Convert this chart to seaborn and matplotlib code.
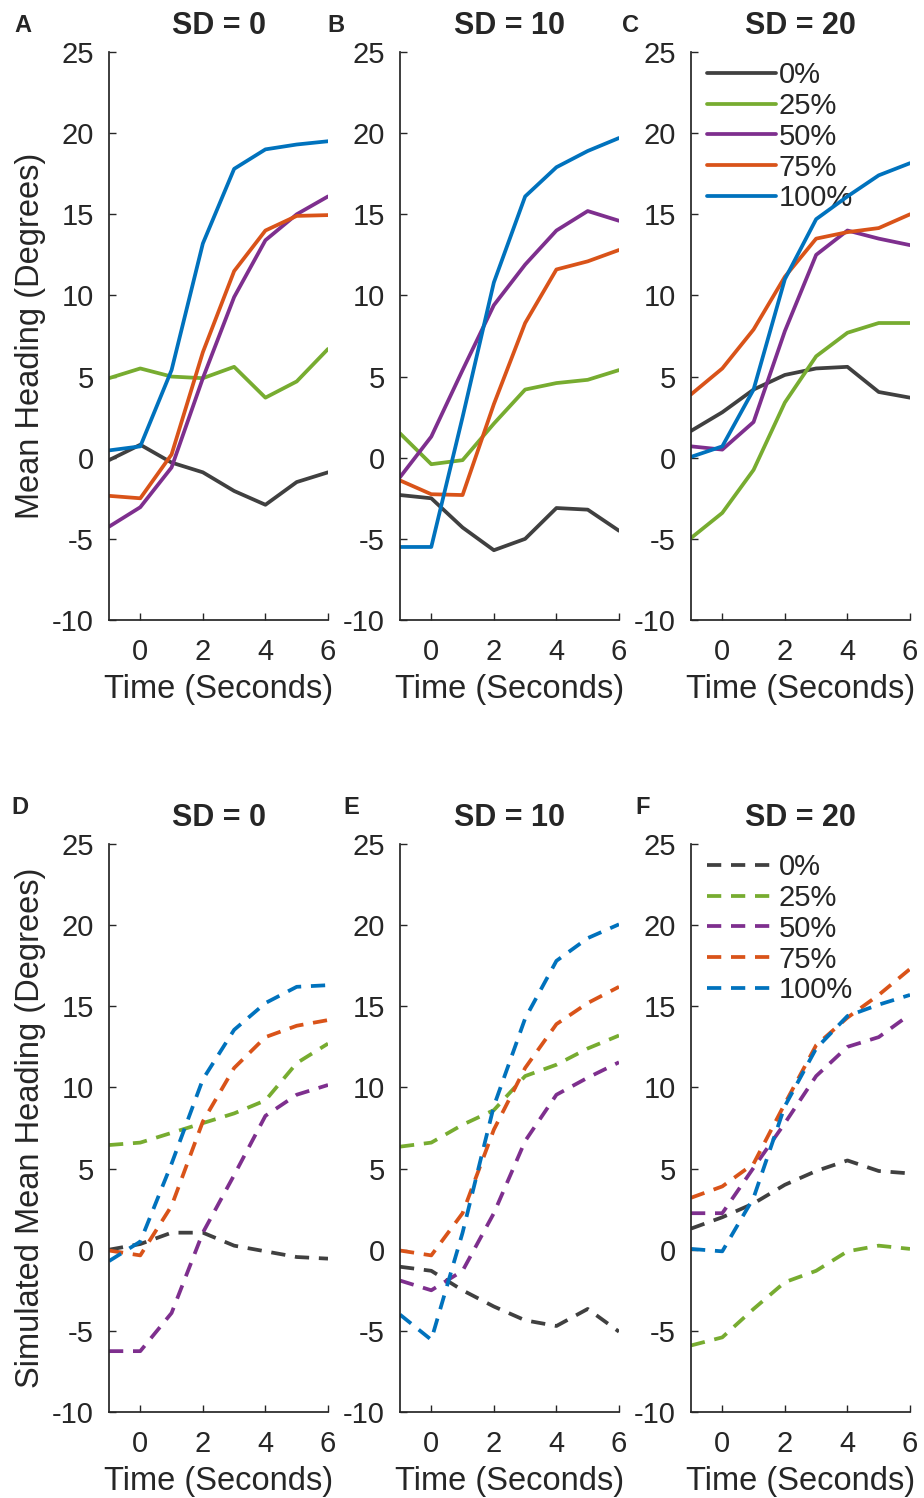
import numpy as np
import pandas as pd
import seaborn as sns
from matplotlib import pyplot as plt

TIME = [-1, 0, 1, 2, 3, 4, 5, 6]
LEVELS = ['0%', '25%', '50%', '75%', '100%']
COLORS = ['#404040', '#77AC30', '#7E2F8E', '#D95319', '#0072BD']
SD_TITLES = ['SD = 0', 'SD = 10', 'SD = 20']
LETTERS = ['A', 'B', 'C', 'D', 'E', 'F']

# measured heading, one row per level in LEVELS order
obs_sd0 = [[-0.15, 0.8, -0.3, -0.9, -2.05, -2.9, -1.5, -0.9],
           [4.9, 5.5, 5.0, 4.9, 5.6, 3.7, 4.7, 6.7],
           [-4.25, -3.05, -0.6, 4.9, 9.9, 13.4, 15.0, 16.1],
           [-2.35, -2.5, 0.2, 6.5, 11.5, 14.0, 14.9, 14.95],
           [0.45, 0.7, 5.4, 13.2, 17.8, 19.0, 19.3, 19.5]]
obs_sd10 = [[-2.3, -2.5, -4.3, -5.7, -5.0, -3.1, -3.2, -4.5],
            [1.5, -0.4, -0.15, 2.1, 4.2, 4.6, 4.8, 5.4],
            [-1.2, 1.3, 5.4, 9.4, 11.9, 14.0, 15.2, 14.6],
            [-1.4, -2.25, -2.3, 3.3, 8.3, 11.6, 12.1, 12.8],
            [-5.5, -5.5, 2.5, 10.8, 16.1, 17.9, 18.9, 19.7]]
obs_sd20 = [[1.65, 2.8, 4.2, 5.1, 5.5, 5.6, 4.05, 3.7],
            [-4.95, -3.4, -0.75, 3.4, 6.25, 7.7, 8.3, 8.3],
            [0.7, 0.5, 2.2, 7.8, 12.5, 14.0, 13.5, 13.1],
            [3.9, 5.5, 7.9, 11.15, 13.5, 13.9, 14.15, 15.0],
            [0.05, 0.7, 4.2, 11.0, 14.7, 16.1, 17.4, 18.15]]

# simulated heading
sim_sd0 = [[0.0, 0.35, 1.05, 1.05, 0.25, -0.1, -0.45, -0.55],
           [6.45, 6.6, 7.2, 7.8, 8.4, 9.2, 11.5, 12.7],
           [-6.25, -6.25, -3.9, 1.05, 4.6, 8.25, 9.55, 10.15],
           [-0.05, -0.35, 2.7, 7.9, 11.2, 13.1, 13.8, 14.15],
           [-0.7, 0.5, 5.3, 10.5, 13.55, 15.2, 16.2, 16.3]]
sim_sd10 = [[-1.05, -1.3, -2.5, -3.5, -4.35, -4.7, -3.65, -5.05],
            [6.35, 6.6, 7.7, 8.6, 10.7, 11.4, 12.4, 13.2],
            [-1.9, -2.5, -1.3, 2.25, 6.7, 9.55, 10.6, 11.55],
            [-0.05, -0.35, 2.25, 7.4, 11.2, 13.9, 15.2, 16.2],
            [-4.0, -5.55, 1.05, 8.85, 14.25, 17.8, 19.2, 20.05]]
sim_sd20 = [[1.3, 2.0, 2.85, 4.0, 4.85, 5.5, 4.85, 4.7],
            [-5.9, -5.4, -3.65, -2.0, -1.3, -0.1, 0.25, 0.05],
            [2.25, 2.25, 5.05, 7.8, 10.7, 12.5, 13.1, 14.5],
            [3.2, 3.9, 5.3, 9.0, 12.6, 14.3, 15.7, 17.3],
            [0.05, -0.1, 3.2, 8.85, 12.4, 14.4, 15.1, 15.7]]


def to_frame(rows):
    recs = []
    for level, vals in zip(LEVELS, rows):
        for t, v in zip(TIME, vals):
            recs.append({'time': t, 'heading': v, 'level': level})
    return pd.DataFrame(recs)


sns.set_theme(style='ticks')
plt.rcParams['font.family'] = ['Liberation Sans', 'DejaVu Sans']
plt.rcParams['axes.unicode_minus'] = False
plt.rcParams['xtick.direction'] = 'in'
plt.rcParams['ytick.direction'] = 'in'

fig = plt.figure(figsize=(9.24, 14.98), dpi=100)
lefts = [109 / 924, 400 / 924, 691 / 924]
bottoms = [1 - 620 / 1498, 1 - 1412 / 1498]
w, h = 219 / 924, 568 / 1498
letter_x = [[-0.43, -0.33, -0.315], [-0.445, -0.26, -0.256]]
letter_y = [1.046, 1.065]

panels = [obs_sd0, obs_sd10, obs_sd20, sim_sd0, sim_sd10, sim_sd20]
for i, rows in enumerate(panels):
    r, c = divmod(i, 3)
    ax = fig.add_axes([lefts[c], bottoms[r], w, h])
    df = to_frame(rows)
    kw = dict(linestyle=(0, (3.8, 2.6))) if r == 1 else {}
    sns.lineplot(data=df, x='time', y='heading', hue='level', hue_order=LEVELS,
                 palette=COLORS, estimator=None, sort=False, linewidth=2.7,
                 legend=False, ax=ax, **kw)
    ax.set_xlim(-1, 6)
    ax.set_ylim(-10, 25)
    ax.set_xticks([0, 2, 4, 6])
    ax.set_yticks(np.arange(-10, 26, 5))
    ax.tick_params(labelsize=21, length=5, width=1, colors='#262626')
    ax.tick_params(axis='x', pad=13)
    ax.tick_params(axis='y', pad=11)
    for s in ax.spines.values():
        s.set_color('#262626')
    sns.despine(ax=ax)
    ax.set_xlabel('Time (Seconds)', fontsize=23.5, color='#262626', labelpad=6)
    if c == 0:
        ax.set_ylabel('Mean Heading (Degrees)' if r == 0 else 'Simulated Mean Heading (Degrees)',
                      fontsize=23.5, color='#262626', labelpad=4)
    else:
        ax.set_ylabel('')
    ax.set_title(SD_TITLES[c], fontsize=22, fontweight='bold', pad=13)
    ax.text(letter_x[r][c], letter_y[r], LETTERS[i], transform=ax.transAxes,
            fontsize=17, fontweight='bold', ha='left', va='center')
    if c == 2:
        leg = ax.legend(ax.get_lines(), LEVELS, loc='upper left', frameon=False,
                        fontsize=21, handlelength=2.35, handletextpad=0.1,
                        labelspacing=0.1, borderaxespad=0.0,
                        bbox_to_anchor=(0.02, 1.005))
        leg.set_zorder(1)

fig.savefig('out.png', dpi=100)
